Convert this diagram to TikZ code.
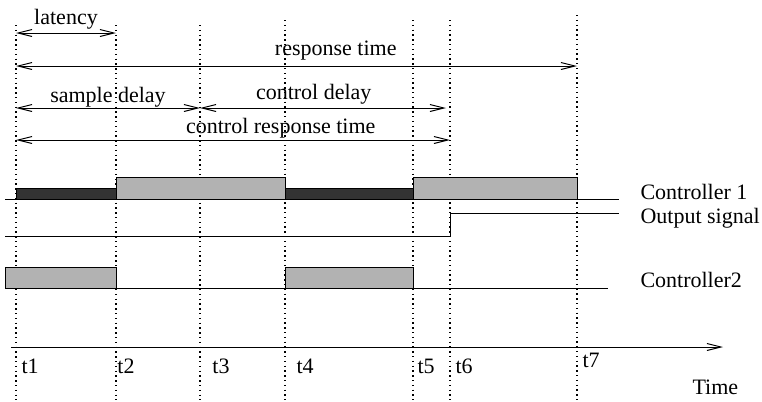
\documentclass[tikz,border=0pt]{standalone}
\usepackage{fontspec}
\setmainfont{Liberation Serif}
\usetikzlibrary{arrows.meta,calc,positioning}

\begin{document}
\begin{tikzpicture}[x=0.5pt,y=-0.5pt,>={Straight Barb[length=7pt,width=3.5pt]},line width=0.5pt,font=\fontsize{11}{13}\selectfont]
  \tikzstyle{tick}=[dash pattern=on 0.7pt off 1.7pt, line width=0.7pt]
  \tikzstyle{lbl}=[anchor=base, inner sep=0pt]
  \tikzstyle{side}=[anchor=base west, inner sep=0pt]
  \tikzstyle{busy}=[draw, fill=black!30]
  \tikzstyle{idle}=[draw, fill=black!80]
  \useasboundingbox (0,0) rectangle (762,402);
  % time instants, top of each dotted line
  \foreach \n/\x/\y in {1/16/25, 2/116/25, 3/200/25, 4/285/20, 5/413/20, 6/450/20, 7/577/15}
    \coordinate (t\n) at (\x,\y);
  \coordinate (bot) at (0,400);
  \foreach \n in {1,...,7}
    \draw[tick] (t\n) -- (t\n |- bot);
  % rows
  \coordinate (lat)  at (0,33);
  \coordinate (resp) at (0,66);
  \coordinate (del)  at (0,108);
  \coordinate (crt)  at (0,140);
  \coordinate (c1hi) at (0,177);
  \coordinate (c1lo) at (0,188);
  \coordinate (c1)   at (0,199);
  \coordinate (outhi) at (0,213);
  \coordinate (outlo) at (0,236);
  \coordinate (c2hi) at (0,267);
  \coordinate (c2)   at (0,288);
  \coordinate (lft)  at (5,0);
  \coordinate (rgt)  at (619,0);
  \coordinate (rgt2) at (608,0);
  \coordinate (ax0)  at (11,347);
  \coordinate (ax1)  at (723,347);

  % spans
  \draw[<->] (t1 |- lat) -- (t2 |- lat) node[lbl, midway, yshift=4.5pt] {latency};
  \draw[<->] (t1 |- resp) -- (t7 |- resp) node[lbl, pos=0.57, yshift=5.5pt] {response time};
  \draw[<->] (t1 |- del) -- (t3 |- del) node[lbl, midway, yshift=3pt] {sample delay};
  \draw[<->, shorten >=2pt] (t3 |- del) -- (t6 |- del) node[lbl, pos=0.455, yshift=4.5pt] {control delay};
  \draw[<->] (t1 |- crt) -- (t6 |- crt) node[lbl, pos=0.61, yshift=3.5pt] {control response time};

  % Controller 1
  \draw[idle] (t1 |- c1lo) rectangle (t2 |- c1);
  \draw[busy] (t2 |- c1hi) rectangle (t4 |- c1);
  \draw[idle] (t4 |- c1lo) rectangle (t5 |- c1);
  \draw[busy] (t5 |- c1hi) rectangle (t7 |- c1);
  \draw (lft |- c1) -- (rgt |- c1);
  \node[side] (lc1) at (640,199) {Controller 1};

  % output signal
  \draw (lft |- outlo) -- (t6 |- outlo) -- (t6 |- outhi) -- (rgt |- outhi);
  \node[side] (lout) at (640,223) {Output signal};

  % Controller 2
  \draw[busy] (lft |- c2hi) rectangle (t2 |- c2);
  \draw[busy] (t4 |- c2hi) rectangle (t5 |- c2);
  \draw (lft |- c2) -- (rgt2 |- c2);
  \node[side] (lc2) at (640,287) {Controller2};

  % time axis
  \draw[->] (ax0) -- (ax1);
  \foreach \n/\x in {1/21, 2/117, 3/212, 4/296, 5/417, 6/455}
    \node[side] (l\n) at (\x,373) {t\n};
  \node[side] (l7) at (582,367) {t7};
  \node[side] (ltime) at (692,394) {Time};
\end{tikzpicture}
\end{document}
